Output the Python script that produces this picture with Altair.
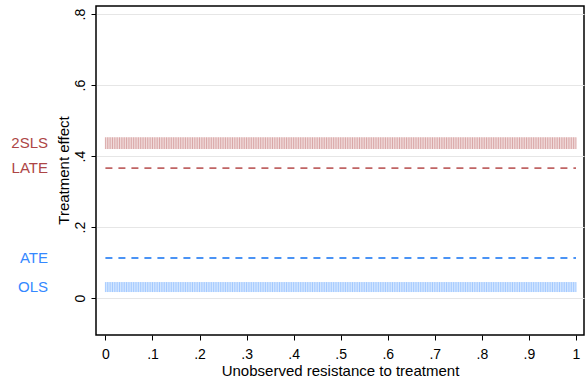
import altair as alt
import pandas as pd

# Estimates drawn as horizontal lines (value) or bands (low/high)
line_names = ["LATE", "ATE"]
line_values = [0.366, 0.113]
line_colors = ["#c06464", "#4a93f5"]

band_names = ["2SLS", "OLS"]
band_low = [0.420, 0.017]
band_high = [0.453, 0.045]
band_fill = ["#f0dada", "#d3e6ff"]
band_spike = ["#cf8f8f", "#8cbcff"]

label_names = ["2SLS", "LATE", "ATE", "OLS"]
label_values = [0.437, 0.366, 0.113, 0.031]
label_colors = ["#ad4545", "#ad4545", "#3488ff", "#3488ff"]

x_ticks = [0, 0.1, 0.2, 0.3, 0.4, 0.5, 0.6, 0.7, 0.8, 0.9, 1]
y_ticks = [0, 0.2, 0.4, 0.6, 0.8]
spike_x = [i / 200 for i in range(201)]

FONT = "Liberation Sans"

xs = alt.Scale(domain=[-0.02, 1.017], nice=False, zero=False)
ys = alt.Scale(domain=[-0.104, 0.823], nice=False, zero=False)

lbl = "datum.value == 0 ? '0' : (datum.value == 1 ? '1' : substring(format(datum.value, '.1f'), 1))"

x_axis = alt.Axis(values=x_ticks, labelExpr=lbl, title="Unobserved resistance to treatment",
                  domain=False, grid=False, tickColor="black", tickSize=5, tickWidth=1,
                  labelFont=FONT, labelFontSize=14, labelColor="black", labelPadding=7,
                  titleFont=FONT, titleFontSize=15, titleFontWeight="normal", titleColor="black",
                  titleY=40, titleBaseline="alphabetic")
y_axis = alt.Axis(values=y_ticks, labelExpr=lbl, title="Treatment effect",
                  domain=False, grid=True, gridColor="#e6e6e6", gridWidth=1.2,
                  tickColor="black", tickSize=5, tickWidth=1,
                  labelAngle=270, labelAlign="center", labelBaseline="bottom", labelPadding=4,
                  labelFont=FONT, labelFontSize=14, labelColor="black",
                  titleFont=FONT, titleFontSize=15, titleFontWeight="normal", titleColor="black",
                  titleAngle=270, titleX=-33, titleY=164, titleAlign="center", titleBaseline="middle")

# axes holder
axes_df = pd.DataFrame({"x": [0, 1], "y": [0, 0.8]})
axes = alt.Chart(axes_df).mark_point(opacity=0).encode(
    x=alt.X("x:Q", scale=xs, axis=x_axis),
    y=alt.Y("y:Q", scale=ys, axis=y_axis),
)

layers = [axes]

# bands
for name, lo, hi, fill, spike in zip(band_names, band_low, band_high, band_fill, band_spike):
    bdf = pd.DataFrame({"x": [0.0], "x2": [1.0], "lo": [lo], "hi": [hi]})
    layers.append(alt.Chart(bdf).mark_rect(color=fill).encode(
        x=alt.X("x:Q", scale=xs), x2="x2:Q", y=alt.Y("lo:Q", scale=ys), y2="hi:Q"))
    sdf = pd.DataFrame({"x": spike_x, "lo": [lo] * len(spike_x), "hi": [hi] * len(spike_x)})
    layers.append(alt.Chart(sdf).mark_rule(color=spike, strokeWidth=0.7).encode(
        x=alt.X("x:Q", scale=xs), y=alt.Y("lo:Q", scale=ys), y2="hi:Q"))

# dashed lines
for name, v, c in zip(line_names, line_values, line_colors):
    ldf = pd.DataFrame({"x": [0.0, 1.0], "y": [v, v]})
    layers.append(alt.Chart(ldf).mark_line(color=c, strokeWidth=1.8, strokeDash=[7, 6]).encode(
        x=alt.X("x:Q", scale=xs), y=alt.Y("y:Q", scale=ys)))

# labels left of the plot
tdf = pd.DataFrame({"name": label_names, "y": label_values, "c": label_colors})
labels = alt.Chart(tdf).mark_text(align="right", baseline="middle", font=FONT, fontSize=15).encode(
    x=alt.value(-48), y=alt.Y("y:Q", scale=ys),
    text="name:N", color=alt.Color("c:N", scale=None))
layers.append(labels)

chart = alt.layer(*layers).properties(
    width=488, height=329,
    autosize=alt.AutoSizeParams(type="none"),
    padding={"left": 96, "top": 6, "right": 3, "bottom": 46},
    background="white",
).configure_view(stroke="black", strokeWidth=1.5)

chart.save("out.html", embed_options={"renderer": "svg", "actions": False})
